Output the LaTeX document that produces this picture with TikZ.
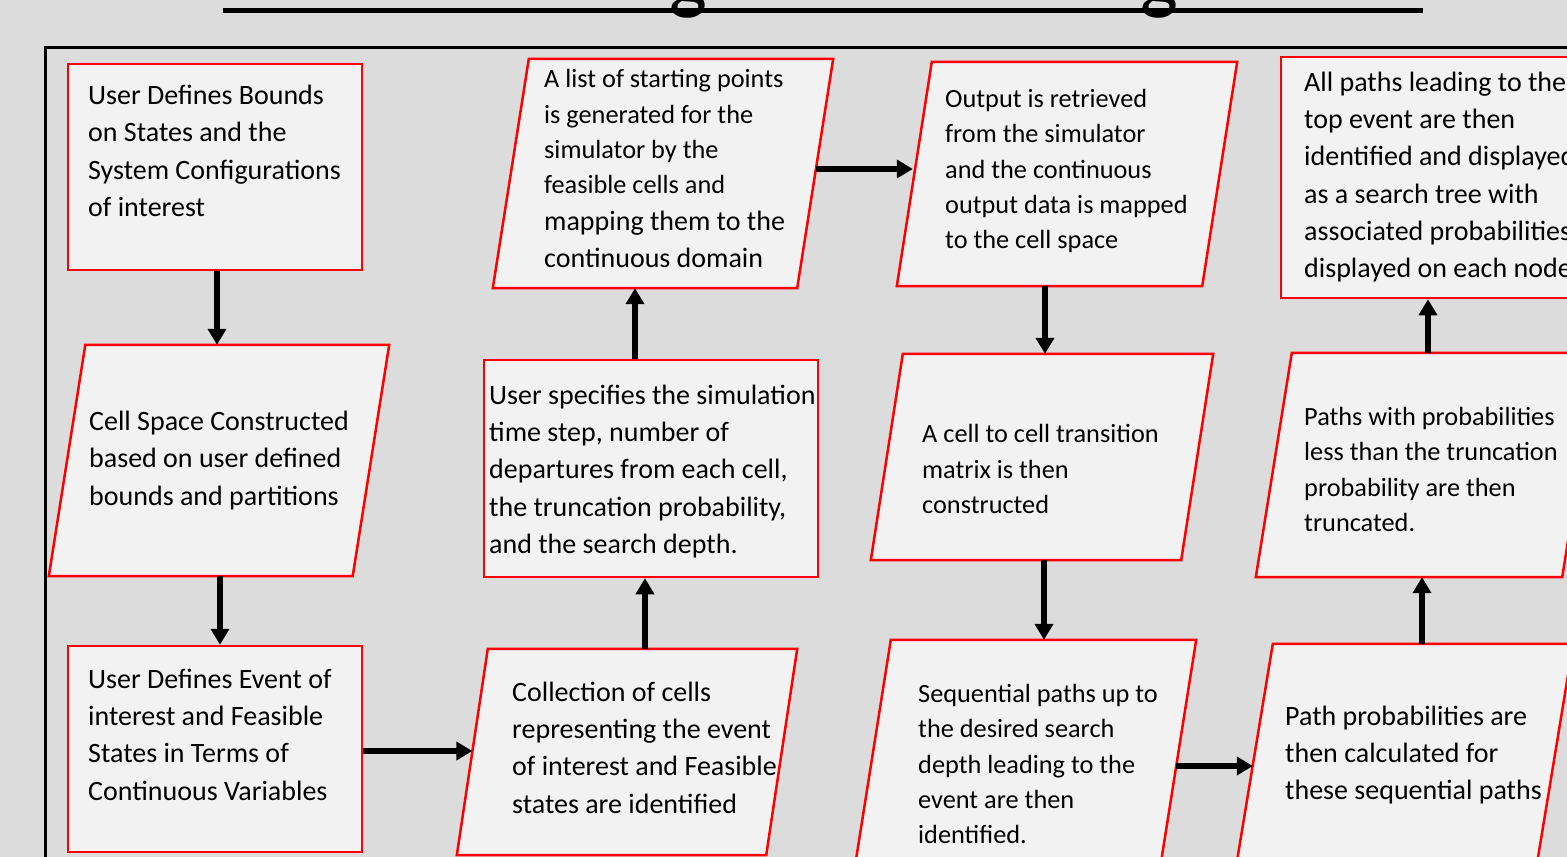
\documentclass[tikz,border=0pt]{standalone}
\usepackage{fontspec}
\setmainfont{Carlito}
\usetikzlibrary{calc,arrows.meta}
\definecolor{bgcol}{HTML}{DCDCDC}
\definecolor{boxfill}{HTML}{F2F2F2}
\definecolor{boxline}{HTML}{FF0000}
% slanted process box: name, centre x, centre y, total width, height, slant
\newcommand\slantbox[6]{%
  \node[pframe, minimum width=#4pt, minimum height=#5pt] (#1) at (#2,#3) {};
  \draw[pline] ([xshift=#6pt]#1.north west) -- (#1.north east)
    -- ([xshift=-#6pt]#1.south east) -- (#1.south west) -- cycle;
}
\begin{document}
\begin{tikzpicture}[x=1pt,y=-1pt,
  rbox/.style={rectangle, draw=boxline, fill=boxfill, line width=2.5pt, inner sep=0pt},
  pframe/.style={rectangle, draw=none, inner sep=0pt},
  pline/.style={draw=boxline, fill=boxfill, line width=2.5pt, line join=miter},
  big/.style={font=\fontsize{28}{37.3}\selectfont},
  small/.style={font=\fontsize{26.3}{35.3}\selectfont},
  txt/.style={anchor=west, align=left, inner sep=0pt, text=black},
  flow/.style={line width=5.5pt, -{Triangle[width=18pt,length=16pt]}},
  titlefont/.style={font=\fontsize{80}{80}\selectfont, anchor=base, inner sep=0pt}
]
% page and background
\fill[bgcol] (0,0) rectangle (1567,857);
\useasboundingbox (0,0) rectangle (1567,857);

% title underline, with the descenders of the title above it
\fill[black] (223,7.5) rectangle (1423,12.7);
\node[titlefont] (tg1) at (688,4) {g};
\node[titlefont] (tg2) at (1159,4) {g};

% outer frame
\draw[line width=3pt] (45,47) rectangle (1640,920);

% boxes
\node[rbox, minimum width=294pt, minimum height=206pt] (A) at (215,167) {};
\slantbox{B}{219}{460.5}{340}{231}{36.5}
\node[rbox, minimum width=294pt, minimum height=206pt] (C) at (215,749) {};
\slantbox{D}{627}{752}{340}{206}{31}
\node[rbox, minimum width=334pt, minimum height=217pt] (E) at (651,468.5) {};
\slantbox{F}{663}{173.5}{340}{229}{36}
\slantbox{G}{1067}{174}{340}{224}{35}
\slantbox{H}{1042}{457}{342}{206}{32}
\slantbox{I}{1024}{763}{344}{246}{39}
\slantbox{J}{1405}{753}{336}{218}{36}
\slantbox{K}{1427}{465}{342}{224}{36}
\node[rbox, minimum width=298pt, minimum height=241pt] (L) at (1430,177.5) {};

% texts
\node[txt, big] (At) at (88,151) {User Defines Bounds\\on States and the\\System Configurations\\of interest};
\node[txt, big] (Bt) at (89,460.5) {Cell Space Constructed\\based on user defined\\bounds and partitions};
\node[txt, big] (Ct) at (88,734.5) {User Defines Event of\\interest and Feasible\\States in Terms of\\Continuous Variables};
\node[txt, big] (Dt) at (512,747.5) {Collection of cells\\representing the event\\of interest and Feasible\\states are identified};
\node[txt, big] (Et) at (489,471.5) {User specifies the simulation\\time step, number of\\departures from each cell,\\the truncation probability,\\and the search depth.};
\node[txt, small] (Ft) at (544,168.5) {A list of starting points\\is generated for the\\simulator by the\\feasible cells and\\[1.5pt]\fontsize{28}{37.3}\selectfont mapping them to the\\[1.5pt]\fontsize{28}{37.3}\selectfont continuous domain};
\node[txt, small] (Gt) at (945,171) {Output is retrieved\\from the simulator\\and the continuous\\output data is mapped\\to the cell space};
\node[txt, small] (Ht) at (922,469) {A cell to cell transition\\matrix is then\\constructed};
\node[txt, small] (It) at (918,764) {Sequential paths up to\\the desired search\\depth leading to the\\event are then\\identified.};
\node[txt, big] (Jt) at (1285,755) {Path probabilities are\\then calculated for\\these sequential paths};
\node[txt, small] (Kt) at (1304,469.5) {Paths with probabilities\\less than the truncation\\probability are then\\truncated.};
\node[txt, big] (Lt) at (1304,177) {All paths leading to the\\top event are then\\identified and displayed\\as a search tree with\\associated probabilities\\displayed on each node};

% connectors
\draw[flow] ($(A.south)+(2,0)$) -- ($(A.south |- B.north)+(2,0)$);
\draw[flow] ($(C.north |- B.south)+(5,0)$) -- ($(C.north)+(5,0)$);
\draw[flow] ($(C.east)+(0,2)$) -- ($(D.west |- C.east)+(15.5,2)$);
\draw[flow] ($(D.north)+(18,0)$) -- ($(E.south -| D.north)+(18,0)$);
\draw[flow] ($(E.north)+(-16,0)$) -- ($(F.south -| E.north)+(-16,0)$);
\draw[flow] ($(F.east)+(-17.3,-4.5)$) -- ($(G.west |- F.east)+(16,-4.5)$);
\draw[flow] ($(G.south)+(-22,0)$) -- ($(H.north -| G.south)+(-22,0)$);
\draw[flow] ($(H.south)+(2,0)$) -- ($(I.north -| H.south)+(2,0)$);
\draw[flow] ($(I.east)+(-20,3)$) -- ($(J.west |- I.east)+(16,3)$);
\draw[flow] ($(J.north)+(17,0)$) -- ($(K.south -| J.north)+(17,0)$);
\draw[flow] ($(L.south |- K.north)+(-2,0)$) -- ($(L.south)+(-2,0)$);
\end{tikzpicture}
\end{document}
